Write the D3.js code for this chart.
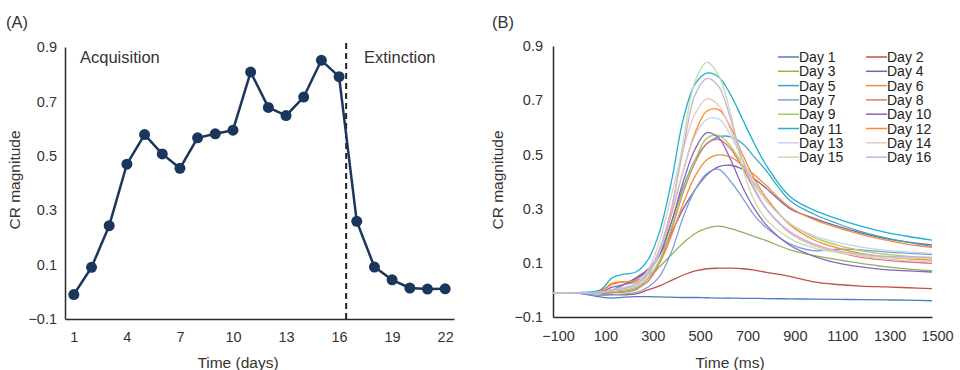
<!DOCTYPE html>
<html>
<head>
<meta charset="utf-8">
<script src="https://cdn.jsdelivr.net/npm/d3@7"></script>
<style>
	body { margin: 0; background: #fff; }
	svg { display: block; font-family: "Liberation Sans", Arial, sans-serif; }
</style>
</head>
<body>
<svg id="chart" width="960" height="370"></svg>
<script>
// (A) CR magnitude per day
const days = [1, 2, 3, 4, 5, 6, 7, 8, 9, 10, 11, 12, 13, 14, 15, 16, 17, 18, 19, 20, 21, 22];
const crByDay = [-0.01, 0.09, 0.243, 0.469, 0.578, 0.507, 0.454, 0.566, 0.581, 0.594, 0.808,
                 0.678, 0.648, 0.716, 0.851, 0.791, 0.259, 0.091, 0.044, 0.014, 0.010, 0.011];
const dayTicks = [1, 4, 7, 10, 13, 16, 19, 22];
const crTicks = [-0.1, 0.1, 0.3, 0.5, 0.7, 0.9];
const extinctionStart = 16.4;

// (B) CR waveform per training day
const timeMs = [-100, 0, 100, 150, 200, 250, 300, 350, 400, 450, 500, 550, 600, 650, 700, 750, 800,
                900, 1000, 1100, 1200, 1300, 1400, 1500];
const msTicks = [-100, 100, 300, 500, 700, 900, 1100, 1300, 1500];

const day1  = [-0.012, -0.012, -0.026, -0.03, -0.027, -0.025, -0.025, -0.026, -0.027, -0.028, -0.028, -0.029, -0.03, -0.03, -0.031, -0.031, -0.032, -0.033, -0.034, -0.035, -0.036, -0.037, -0.038, -0.04];
const day2  = [-0.012, -0.01, -0.015, -0.017, -0.018, -0.015, 0.0, 0.015, 0.035, 0.055, 0.07, 0.078, 0.08, 0.08, 0.078, 0.073, 0.065, 0.05, 0.03, 0.02, 0.014, 0.011, 0.008, 0.005];
const day3  = [-0.012, -0.01, -0.012, -0.01, -0.008, 0.0, 0.04, 0.085, 0.13, 0.173, 0.208, 0.228, 0.235, 0.226, 0.212, 0.197, 0.182, 0.148, 0.127, 0.112, 0.098, 0.086, 0.077, 0.071];
const day4  = [-0.012, -0.01, -0.008, 0.0, 0.02, 0.045, 0.075, 0.13, 0.21, 0.3, 0.37, 0.425, 0.455, 0.46, 0.445, 0.41, 0.375, 0.3, 0.265, 0.235, 0.21, 0.19, 0.176, 0.166];
const day5  = [-0.012, -0.012, -0.01, 0.0, 0.02, 0.03, 0.06, 0.13, 0.25, 0.38, 0.48, 0.54, 0.565, 0.565, 0.54, 0.49, 0.44, 0.33, 0.28, 0.245, 0.215, 0.193, 0.175, 0.16];
const day6  = [-0.012, -0.01, -0.005, 0.02, 0.03, 0.03, 0.05, 0.1, 0.2, 0.32, 0.42, 0.48, 0.498, 0.49, 0.46, 0.425, 0.385, 0.305, 0.26, 0.23, 0.205, 0.185, 0.168, 0.157];
const day7  = [-0.012, -0.012, -0.02, -0.018, -0.015, -0.01, 0.01, 0.05, 0.14, 0.27, 0.37, 0.43, 0.445, 0.4, 0.34, 0.275, 0.23, 0.17, 0.145, 0.15, 0.148, 0.14, 0.135, 0.13];
const day8  = [-0.012, -0.01, -0.012, -0.01, -0.005, 0.005, 0.03, 0.1, 0.22, 0.36, 0.47, 0.54, 0.555, 0.52, 0.45, 0.37, 0.3, 0.21, 0.165, 0.14, 0.12, 0.11, 0.103, 0.098];
const day9  = [-0.012, -0.01, -0.01, -0.005, 0.0, 0.01, 0.04, 0.11, 0.23, 0.37, 0.48, 0.56, 0.57, 0.53, 0.46, 0.39, 0.33, 0.245, 0.195, 0.165, 0.145, 0.132, 0.124, 0.119];
const day10 = [-0.012, -0.01, -0.008, 0.01, 0.02, 0.04, 0.07, 0.13, 0.25, 0.4, 0.52, 0.58, 0.56, 0.48, 0.38, 0.3, 0.24, 0.165, 0.125, 0.1, 0.085, 0.075, 0.07, 0.066];
const day11 = [-0.012, -0.01, 0.0, 0.045, 0.058, 0.066, 0.11, 0.215, 0.4, 0.63, 0.76, 0.8, 0.785, 0.72, 0.63, 0.54, 0.46, 0.345, 0.295, 0.262, 0.235, 0.213, 0.197, 0.184];
const day12 = [-0.012, -0.01, -0.005, 0.025, 0.03, 0.035, 0.06, 0.14, 0.28, 0.44, 0.58, 0.66, 0.665, 0.6, 0.5, 0.41, 0.34, 0.24, 0.185, 0.155, 0.135, 0.122, 0.115, 0.11];
const day13 = [-0.012, -0.01, -0.01, 0.0, 0.005, 0.015, 0.05, 0.14, 0.29, 0.44, 0.57, 0.63, 0.63, 0.57, 0.48, 0.4, 0.33, 0.245, 0.2, 0.175, 0.158, 0.147, 0.14, 0.135];
const day14 = [-0.012, -0.01, -0.008, 0.0, 0.01, 0.025, 0.07, 0.18, 0.35, 0.52, 0.65, 0.705, 0.68, 0.59, 0.48, 0.38, 0.3, 0.21, 0.165, 0.14, 0.125, 0.115, 0.108, 0.105];
const day15 = [-0.012, -0.01, -0.01, 0.0, 0.005, 0.02, 0.06, 0.15, 0.3, 0.55, 0.77, 0.84, 0.79, 0.65, 0.45, 0.33, 0.26, 0.19, 0.155, 0.138, 0.127, 0.12, 0.117, 0.115];
const day16 = [-0.012, -0.01, -0.01, 0.0, 0.005, 0.02, 0.06, 0.15, 0.3, 0.52, 0.72, 0.78, 0.75, 0.63, 0.48, 0.37, 0.3, 0.215, 0.17, 0.145, 0.132, 0.125, 0.122, 0.12];

const waveforms = [day1, day2, day3, day4, day5, day6, day7, day8, day9, day10, day11, day12, day13, day14, day15, day16];
const waveLabels = ['Day 1', 'Day 2', 'Day 3', 'Day 4', 'Day 5', 'Day 6', 'Day 7', 'Day 8',
                    'Day 9', 'Day 10', 'Day 11', 'Day 12', 'Day 13', 'Day 14', 'Day 15', 'Day 16'];
const waveColors = ['#4f7cc0', '#c0504d', '#8fb356', '#7e62a8', '#3aa7c4', '#f58c3c', '#7f9fd8', '#e07a74',
                    '#a9cb62', '#8a63c2', '#1cb0d4', '#ff8a1f', '#c6d3ec', '#ebc6c6', '#c6dea8', '#c2b3da'];

const svg = d3.select('#chart');
const fmt1 = d3.format('.1f');
const fmtInt = d3.format('d');

const styleAxis = (g) => {
	g.select('.domain').attr('stroke', '#2a2a2a').attr('stroke-width', 1.5);
	g.selectAll('text').attr('fill', '#333').attr('font-size', 14.5);
};

// ---------- panel A ----------
const xA = d3.scaleLinear().domain([0.5, 22.5]).range([65, 454]);
const yA = d3.scaleLinear().domain([-0.1, 0.9]).range([319, 47]);

svg.append('g')
   .attr('transform', 'translate(0, 319)')
   .call(d3.axisBottom(xA).tickValues(dayTicks).tickSize(0).tickPadding(13).tickFormat(fmtInt))
   .call(styleAxis);
svg.append('g')
   .attr('transform', 'translate(65, 0)')
   .call(d3.axisLeft(yA).tickValues(crTicks).tickSize(0).tickPadding(8).tickFormat(fmt1))
   .call(styleAxis);

svg.append('line')
   .attr('x1', xA(extinctionStart)).attr('x2', xA(extinctionStart))
   .attr('y1', 43).attr('y2', 319)
   .attr('stroke', '#222')
   .attr('stroke-width', 2)
   .attr('stroke-dasharray', '6,4');

const lineA = d3.line()
                .x((d, i) => xA(days[i]))
                .y(d => yA(d));
svg.append('path')
   .datum(crByDay)
   .attr('d', lineA)
   .attr('fill', 'none')
   .attr('stroke', '#1b365d')
   .attr('stroke-width', 2.5)
   .attr('stroke-linejoin', 'round');

svg.append('g')
   .selectAll('circle')
   .data(crByDay)
   .join('circle')
   .attr('cx', (d, i) => xA(days[i]))
   .attr('cy', d => yA(d))
   .attr('r', 5.5)
   .attr('fill', '#1b365d');

svg.append('text').attr('x', 80).attr('y', 63).attr('font-size', 16.5).attr('fill', '#333').text('Acquisition');
svg.append('text').attr('x', 364).attr('y', 63).attr('font-size', 16.5).attr('fill', '#333').text('Extinction');
svg.append('text').attr('x', 6).attr('y', 28).attr('font-size', 16.5).attr('fill', '#333').text('(A)');
svg.append('text')
   .attr('transform', 'translate(20, 180) rotate(-90)')
   .attr('text-anchor', 'middle')
   .attr('font-size', 15.5)
   .attr('fill', '#333')
   .text('CR magnitude');
svg.append('text')
   .attr('x', 238).attr('y', 368)
   .attr('text-anchor', 'middle')
   .attr('font-size', 15.5)
   .attr('fill', '#333')
   .text('Time (days)');

// ---------- panel B ----------
const xB = d3.scaleLinear().domain([-100, 1500]).range([553, 932]);
const yB = d3.scaleLinear().domain([-0.1, 0.9]).range([317, 46]);

svg.append('g')
   .attr('transform', 'translate(0, 317)')
   .call(d3.axisBottom(xB).tickValues(msTicks).tickSize(0).tickPadding(14).tickFormat(fmtInt))
   .call(styleAxis)
   .call(g => g.selectAll('text').attr('dx', 5));
svg.append('g')
   .attr('transform', 'translate(553, 0)')
   .call(d3.axisLeft(yB).tickValues(crTicks).tickSize(0).tickPadding(10).tickFormat(fmt1))
   .call(styleAxis);

const lineB = d3.line()
                .curve(d3.curveCatmullRom.alpha(0.5))
                .x((d, i) => xB(timeMs[i]))
                .y(d => yB(d));

svg.append('g')
   .selectAll('path')
   .data(waveforms)
   .join('path')
   .attr('d', lineB)
   .attr('fill', 'none')
   .attr('stroke', (d, i) => waveColors[i])
   .attr('stroke-width', 1.3);

const legend = svg.append('g').attr('font-size', 14).attr('fill', '#222');
waveLabels.forEach((label, i) => {
	const col = i % 2;
	const row = Math.floor(i / 2);
	const x0 = col === 0 ? 778 : 866;
	const y0 = 57 + row * 14.3;
	legend.append('line')
	      .attr('x1', x0).attr('x2', x0 + 21)
	      .attr('y1', y0).attr('y2', y0)
	      .attr('stroke', waveColors[i])
	      .attr('stroke-width', 1.5);
	legend.append('text')
	      .attr('x', x0 + 21).attr('y', y0 + 5)
	      .text(label);
});

svg.append('text').attr('x', 492).attr('y', 28).attr('font-size', 16.5).attr('fill', '#333').text('(B)');
svg.append('text')
   .attr('transform', 'translate(503, 180) rotate(-90)')
   .attr('text-anchor', 'middle')
   .attr('font-size', 15.5)
   .attr('fill', '#333')
   .text('CR magnitude');
svg.append('text')
   .attr('x', 730).attr('y', 368)
   .attr('text-anchor', 'middle')
   .attr('font-size', 15.5)
   .attr('fill', '#333')
   .text('Time (ms)');
</script>
</body>
</html>
